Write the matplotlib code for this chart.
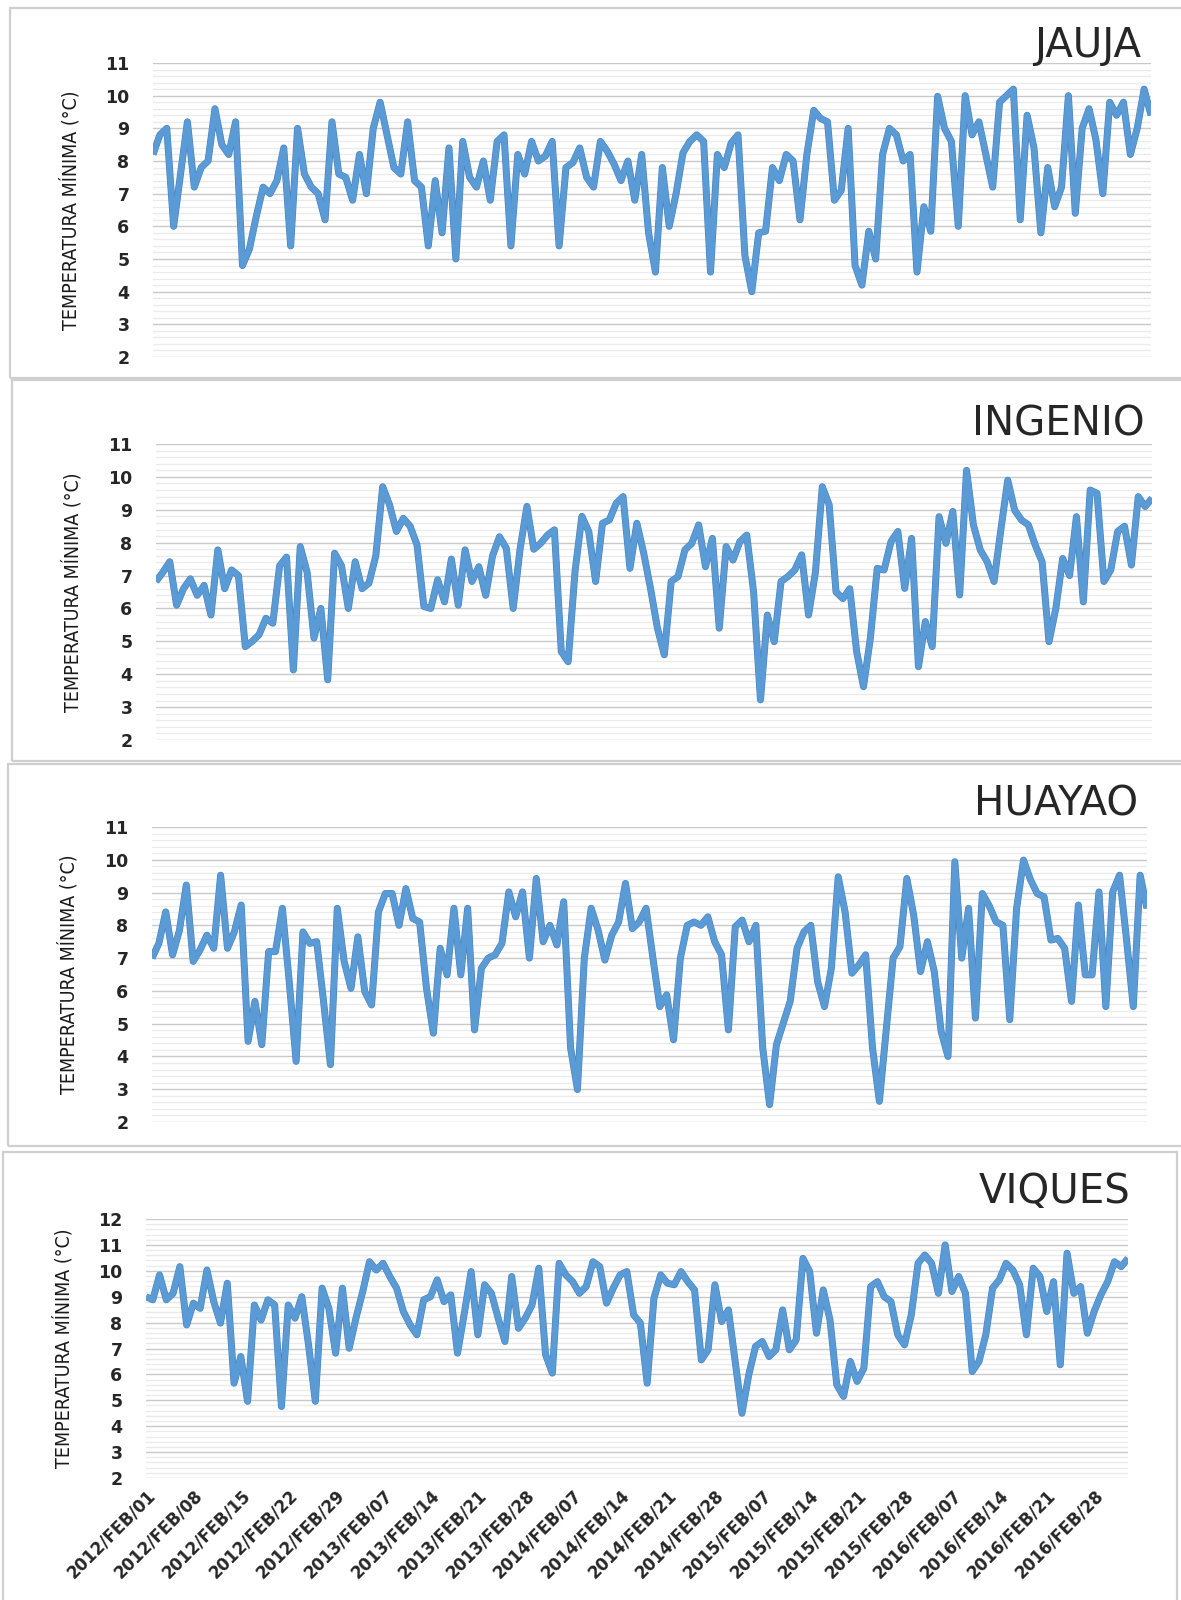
import matplotlib
matplotlib.use("Agg")
import matplotlib.pyplot as plt
import matplotlib.patheffects as pe
from matplotlib.patches import Rectangle
from matplotlib.ticker import MultipleLocator

# Daily minimum temperature (°C) at each station, February 2012-2016
jauja = [8.2, 8.8, 9.0, 6.0, 7.6, 9.2, 7.2, 7.8, 8.0, 9.6, 8.5, 8.2, 9.2, 4.8, 5.3,
         6.3, 7.2, 7.0, 7.4, 8.4, 5.4, 9.0, 7.6, 7.2, 7.0, 6.2, 9.2, 7.6, 7.5, 6.8,
         8.2, 7.0, 9.0, 9.8, 8.8, 7.8, 7.6, 9.2, 7.4, 7.2, 5.4, 7.4, 5.8, 8.4, 5.0,
         8.6, 7.5, 7.2, 8.0, 6.8, 8.6, 8.8, 5.4, 8.2, 7.6,
         8.6, 8.0, 8.15, 8.6, 5.4, 7.8, 7.95, 8.4, 7.5, 7.2, 8.6, 8.3, 7.9, 7.4, 8.0,
         6.8, 8.2, 5.8, 4.6, 7.8, 6.0, 7.0, 8.25, 8.6, 8.8, 8.6, 4.6, 8.2, 7.8, 8.55,
         8.8, 5.1, 4.0, 5.8, 5.85, 7.8, 7.4, 8.2, 8.0, 6.2, 8.2, 9.55, 9.3, 9.2, 6.8,
         7.1, 9.0, 4.8, 4.2, 5.85, 5.0, 8.2, 9.0,
         8.8, 8.0, 8.2, 4.6, 6.6, 5.85, 9.98, 9.0, 8.6, 6.0, 10.0, 8.8, 9.2, 8.2, 7.2,
         9.8, 10.0, 10.2, 6.2, 9.4, 8.4, 5.8, 7.8, 6.6, 7.2, 10.0, 6.4, 9.0, 9.6, 8.65,
         7.0, 9.8, 9.4, 9.8, 8.2, 9.0, 10.2, 9.4]

ingenio = [6.82, 7.1, 7.42, 6.1, 6.6, 6.9, 6.4, 6.7, 5.8, 7.78, 6.6, 7.17, 7.0, 4.84,
           5.0, 5.2, 5.7, 5.55, 7.3, 7.56, 4.13, 7.88, 7.1, 5.1, 6.0, 3.83, 7.68, 7.3,
           6.0, 7.42, 6.6, 6.77, 7.6, 9.7, 9.15, 8.34, 8.74, 8.5, 7.93, 6.06, 6.0, 6.87,
           6.2, 7.5, 6.1, 7.78, 6.82, 7.27, 6.4, 7.6, 8.18, 7.83, 6.0, 7.8, 9.1, 7.8,
           7.98, 8.23, 8.39, 4.69, 4.38, 7.12, 8.8, 8.34, 6.82, 8.59, 8.69, 9.2, 9.4,
           7.22, 8.59, 7.68, 6.6, 5.4, 4.59, 6.82, 6.97, 7.78, 7.98, 8.54, 7.27, 8.13,
           5.4, 7.88, 7.47, 8.03, 8.23, 6.5, 3.22, 5.8, 4.99, 6.82, 6.97, 7.17, 7.63,
           5.8, 7.1, 9.7, 9.15, 6.5, 6.3, 6.6, 4.69, 3.62, 5.1, 7.22, 7.17,
           8.03, 8.34, 6.61, 8.13, 4.23, 5.6, 4.84, 8.79, 7.98, 8.95, 6.41, 10.2, 8.54,
           7.78, 7.42, 6.82, 8.4, 9.9, 8.99, 8.69, 8.54, 7.93, 7.42, 4.99, 6.0, 7.52,
           7.0, 8.79, 6.2, 9.6, 9.5, 6.82, 7.17, 8.34, 8.5, 7.32, 9.4, 9.1, 9.35]

huayao = [7.0, 7.45, 8.41, 7.1, 7.85, 9.23, 6.9, 7.25, 7.7, 7.3, 9.53, 7.3, 7.8,
          8.62, 4.46, 5.68, 4.36, 7.2, 7.2, 8.52, 6.28, 3.85, 7.8, 7.45, 7.5, 5.68,
          3.75, 8.52, 6.9, 6.08, 7.65, 5.98, 5.57, 8.41, 8.97, 8.97, 8.0, 9.12, 8.21,
          8.1, 6.08, 4.71, 7.3, 6.49, 8.52, 6.49, 8.52, 4.81, 6.69, 7.0, 7.1, 7.45, 9.02,
          8.26, 9.02, 7.0, 9.43,
          7.5, 8.0, 7.4, 8.72, 4.26, 2.99, 7.0, 8.52, 7.86, 6.94, 7.7, 8.1, 9.28, 7.9,
          8.1, 8.52, 7.0, 5.52, 5.88, 4.51, 7.0, 8.0, 8.1, 8.0, 8.26, 7.5, 7.1, 4.81,
          7.96, 8.16, 7.5, 8.0, 4.26, 2.53, 4.36, 5.02, 5.68, 7.3, 7.8, 8.0, 6.28, 5.52,
          6.69, 9.48, 8.41, 6.54, 6.79, 7.1, 4.26, 2.63,
          4.8, 7.0, 7.35, 9.43, 8.31, 6.59, 7.5, 6.59, 4.76, 4.0, 9.94, 7.0, 8.52, 5.17,
          8.97, 8.6, 8.11, 8.0, 5.12, 8.52, 9.99, 9.4, 8.97, 8.87, 7.55, 7.6, 7.3, 5.68,
          8.62, 6.49, 6.49, 9.02, 5.52, 9.02, 9.53, 7.6, 5.52, 9.53, 8.52]

viques = [9.0, 8.88, 9.84, 8.88, 9.13, 10.16, 7.91, 8.75, 8.55, 10.03, 8.81, 7.98,
          9.52, 5.66, 6.69, 4.96, 8.68, 8.1, 8.88, 8.68, 4.76, 8.68, 8.17, 9.0, 7.14,
          4.96, 9.33, 8.55, 6.82, 9.33, 7.01, 8.17, 9.2, 10.35, 10.03, 10.29, 9.78,
          9.33, 8.43, 7.91, 7.53, 8.88, 9.0, 9.65, 8.81, 9.07, 6.82, 8.36, 9.97, 7.53,
          9.46, 9.13, 8.17, 7.27, 9.78, 7.78, 8.17, 8.68,
          10.1, 6.76, 6.05, 10.29, 9.84, 9.58, 9.13, 9.39, 10.35, 10.16, 8.75, 9.33,
          9.84, 9.97, 8.3, 7.98, 5.66, 8.94, 9.84, 9.52, 9.46, 9.97, 9.58, 9.26, 6.56,
          6.95, 9.46, 8.04, 8.49, 6.5, 4.5, 5.98, 7.08, 7.27, 6.69, 6.95, 8.49, 6.95,
          7.33, 10.48, 9.97, 7.59, 9.26, 8.1, 5.6, 5.15, 6.5, 5.73, 6.24, 9.39, 9.58,
          9.0,
          8.81, 7.53, 7.14, 8.3, 10.29, 10.61, 10.29, 9.13, 11.0, 9.2, 9.78, 9.13, 6.11,
          6.5, 7.53, 9.33, 9.65, 10.29, 10.03, 9.46, 7.53, 10.1, 9.78, 8.43, 9.58, 6.37,
          10.68, 9.13, 9.39, 7.59, 8.43, 9.07, 9.58, 10.35, 10.16, 10.48]

station_names = ["JAUJA", "INGENIO", "HUAYAO", "VIQUES"]
series = [jauja, ingenio, huayao, viques]
y_limits = [(2, 11), (2, 11), (2, 11), (2, 12)]

date_labels = ["2012/FEB/01", "2012/FEB/08", "2012/FEB/15", "2012/FEB/22",
               "2012/FEB/29", "2013/FEB/07", "2013/FEB/14", "2013/FEB/21",
               "2013/FEB/28", "2014/FEB/07", "2014/FEB/14", "2014/FEB/21",
               "2014/FEB/28", "2015/FEB/07", "2015/FEB/14", "2015/FEB/21",
               "2015/FEB/28", "2016/FEB/07", "2016/FEB/14", "2016/FEB/21",
               "2016/FEB/28"]

y_label = "TEMPERATURA MÍNIMA (°C)"

W, H = 1181, 1600
fig = plt.figure(figsize=(W / 100, H / 100), dpi=100)


def fx(px):
    return px / W


def fy(py):
    return 1 - py / H


# Layout in pixels: plot area (left, top, right, bottom), frame box, title anchor
plot_boxes = [(153, 63, 1151, 357), (156, 444, 1152, 740),
              (152, 827, 1147, 1122), (146, 1219, 1128, 1478)]
frames = [(10, 8, 1185, 378), (12, 380, 1185, 761),
          (8, 764, 1185, 1146), (3, 1152, 1177, 1605)]
title_pos = [(1141, 57), (1145, 435), (1138, 816), (1130, 1203)]
ylabel_x = [70, 72, 68, 63]

line_color = "#5B9BD5"
edge_color = "#4682C2"
narrow = ["Liberation Sans Narrow", "DejaVu Sans Condensed", "DejaVu Sans"]

for i, (vals, name) in enumerate(zip(series, station_names)):
    l, t, r, b = plot_boxes[i]
    ax = fig.add_axes([fx(l), fy(b), fx(r - l), (b - t) / H])
    x = list(range(len(vals)))
    ax.plot(x, vals, color=line_color, lw=4.2, solid_joinstyle="round",
            solid_capstyle="butt", zorder=3,
            path_effects=[pe.Stroke(linewidth=5.0, foreground=edge_color),
                          pe.Normal()])
    ax.set_xlim(0, len(vals) - 1)
    lo, hi = y_limits[i]
    ax.set_ylim(lo, hi)
    ax.yaxis.set_major_locator(MultipleLocator(1))
    ax.yaxis.set_minor_locator(MultipleLocator(0.2))
    ax.grid(which="major", axis="y", color="#c9c9c9", lw=1.0)
    ax.grid(which="minor", axis="y", color="#ebebeb", lw=1.0)
    ax.set_axisbelow(True)
    for s in ax.spines.values():
        s.set_visible(False)
    ax.tick_params(axis="y", which="both", length=0, pad=17,
                   labelsize=12.5, labelcolor="#262626")
    for lab in ax.get_yticklabels():
        lab.set_fontweight("bold")
    ax.tick_params(axis="x", which="both", length=0)
    if i < 3:
        ax.set_xticks([])
    else:
        ax.set_xticks(range(0, 141, 7))
        ax.set_xticklabels(date_labels, rotation=45, ha="right",
                           rotation_mode="anchor", fontsize=12,
                           fontweight="bold", color="#262626")
        ax.tick_params(axis="x", pad=6)

    fig.text(fx(ylabel_x[i]), fy((t + b) / 2), y_label, rotation=90,
             ha="center", va="center", fontsize=14, color="#1a1a1a",
             family=narrow, fontstretch="condensed")

    tx, ty = title_pos[i]
    fig.text(fx(tx), fy(ty), name, ha="right", va="baseline", fontsize=29,
             color="#262626", family=["DejaVu Sans"])

    fl, ft, fr, fb = frames[i]
    fig.patches.append(Rectangle((fx(fl), fy(fb)), fx(fr - fl), (fb - ft) / H,
                                 transform=fig.transFigure, fill=False,
                                 edgecolor="#cfcfcf", lw=1.6, zorder=0))

fig.savefig("out.png", dpi=100, facecolor="white")
